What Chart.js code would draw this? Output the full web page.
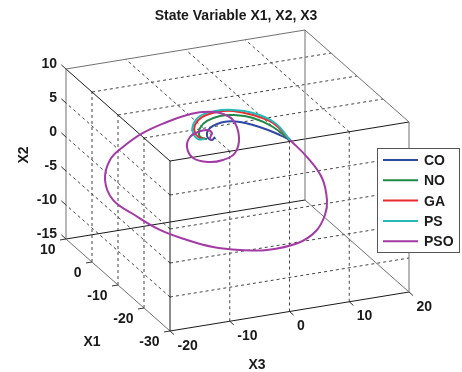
<!DOCTYPE html>
<html>
<head>
<meta charset="utf-8">
<script src="https://cdn.jsdelivr.net/npm/chart.js@4.4.1/dist/chart.umd.min.js"></script>
<style>
html, body { margin: 0; padding: 0; background: #fff; }
#wrap { width: 462px; height: 372px; }
</style>
</head>
<body>
<div id="wrap"><canvas id="chart" width="462" height="372"></canvas></div>
<script>
const seriesNames = ["CO", "NO", "GA", "PS", "PSO"];
const seriesColors = ["#2f4aa3", "#1f8a45", "#ec2a2e", "#27b8b8", "#a43aa6"];

// axis ticks
const x1Ticks = [-30, -20, -10, 0, 10];
const x2Ticks = [-15, -10, -5, 0, 5, 10];
const x3Ticks = [-20, -10, 0, 10, 20];

// trajectories, each point is [X1, X2, X3]
const CO = [
  [0, -1.81, 13.14], [0, -0.84, 11.46], [0, 0.19, 9.46], [0, 1.28, 6.95],
  [0, 2.04, 4.77], [0, 2.42, 2.59], [0, 2.29, 0.92], [0, 1.87, -0.25],
  [0, 1.21, -0.75], [0, 0.45, -0.59], [0, 0.06, 0.08], [0, 0.43, 0.59]
];
const NO = [
  [0, -1.81, 13.14], [0, 0.51, 10.29], [0, 2.31, 6.95], [0, 3.23, 3.60],
  [0, 3.40, 1.42], [0, 2.98, -0.75], [0, 2.11, -1.92], [0, 1.11, -2.09],
  [0, 0.60, -1.59], [0, 0.33, -0.75]
];
const GA = [
  [0, -1.81, 13.14], [0, 1.10, 10.29], [0, 2.75, 6.95], [0, 3.82, 3.60],
  [0, 4.06, 0.92], [0, 3.68, -1.59], [0, 2.68, -2.76], [0, 1.50, -2.76],
  [0, 0.64, -1.92], [0, 0.45, -1.09]
];
const PS = [
  [0, -1.81, 13.14], [0, 1.05, 10.63], [0, 3.05, 6.95], [0, 3.97, 3.60],
  [0, 4.25, 0.59], [0, 3.88, -1.92], [0, 2.72, -3.10], [0, 1.55, -3.10],
  [0, 0.54, -2.26], [0, 0.38, -1.09]
];
const PSO = [
  [0, -1.81, 13.14], [-3, -3.52, 14.68], [-7, -5.36, 15.45], [-11, -7.11, 14.54],
  [-14, -8.07, 12.90], [-17, -9.01, 10.09], [-19.5, -9.34, 5.99], [-21, -9.02, 0.15],
  [-22, -7.97, -4.80], [-21.5, -7.09, -9.10], [-20, -6.03, -12.80], [-17, -5.11, -16.02],
  [-10, -4.92, -17.49], [-5, -4.38, -18.66], [-2, -2.45, -18.69], [0, -0.43, -16.99],
  [1, 0.77, -14.38], [1.5, 2.15, -10.81], [1, 3.39, -7.01], [0, 4.34, -4.10],
  [-2.5, 5.40, -2.51], [-3, 5.04, 0.12], [-3, 3.70, 2.29], [-2, 0.66, 3.73],
  [-1, -2.00, 3.50], [0, -3.14, 1.92], [0.5, -3.28, -0.37], [1, -2.53, -2.66],
  [1, -0.77, -3.67], [0.5, 0.83, -3.38], [0, 1.57, -2.26], [0, 1.65, -0.75],
  [0, 1.09, 0.08], [0, 0.40, -0.25], [0, 0, 0]
];
const seriesData = [CO, NO, GA, PS, PSO];

// camera: screen position of the origin and of one unit along X1, X2, X3
const view = { ox: 211.5, oy: 140.5, e1: [-2.6, -2.3], e2: [0, -6.8], e3: [5.975, -0.975] };

function proj(p) {
  return {
    x: view.ox + view.e1[0] * p[0] + view.e2[0] * p[1] + view.e3[0] * p[2],
    y: view.oy + view.e1[1] * p[0] + view.e2[1] * p[1] + view.e3[1] * p[2]
  };
}

const x1Min = x1Ticks[0], x1Max = x1Ticks[x1Ticks.length - 1];
const x2Min = x2Ticks[0], x2Max = x2Ticks[x2Ticks.length - 1];
const x3Min = x3Ticks[0], x3Max = x3Ticks[x3Ticks.length - 1];

const FONT = "bold 14px 'Liberation Sans', Arial, sans-serif";

const box3d = {
  id: "box3d",
  beforeDatasetsDraw(chart) {
    const c = chart.ctx;
    const sx = chart.scales.x, sy = chart.scales.y;
    function pt(p) { const q = proj(p); return [sx.getPixelForValue(q.x), sy.getPixelForValue(q.y)]; }
    function seg(a, b) {
      const A = pt(a), B = pt(b);
      c.beginPath(); c.moveTo(A[0], A[1]); c.lineTo(B[0], B[1]); c.stroke();
    }
    c.save();
    // dashed grid on the three back planes
    c.strokeStyle = "#444";
    c.lineWidth = 1;
    c.setLineDash([3, 3]);
    x3Ticks.slice(1, -1).forEach(t => {
      seg([x1Min, x2Min, t], [x1Min, x2Max, t]);
      seg([x1Min, x2Max, t], [x1Max, x2Max, t]);
    });
    x2Ticks.slice(1, -1).forEach(v => {
      seg([x1Min, v, x3Min], [x1Min, v, x3Max]);
      seg([x1Min, v, x3Min], [x1Max, v, x3Min]);
    });
    x1Ticks.slice(1, -1).forEach(t => {
      seg([t, x2Min, x3Min], [t, x2Max, x3Min]);
      seg([t, x2Max, x3Min], [t, x2Max, x3Max]);
    });
    c.setLineDash([]);
    // box edges
    const dark = "#1a1a1a", grey = "#707070";
    const edges = [
      [[x1Max, x2Max, x3Min], [x1Max, x2Max, x3Max], grey],
      [[x1Min, x2Max, x3Min], [x1Min, x2Max, x3Max], dark],
      [[x1Max, x2Min, x3Min], [x1Max, x2Min, x3Max], dark],
      [[x1Min, x2Min, x3Min], [x1Min, x2Min, x3Max], dark],
      [[x1Min, x2Max, x3Min], [x1Max, x2Max, x3Min], dark],
      [[x1Min, x2Max, x3Max], [x1Max, x2Max, x3Max], grey],
      [[x1Min, x2Min, x3Min], [x1Max, x2Min, x3Min], grey],
      [[x1Min, x2Min, x3Max], [x1Max, x2Min, x3Max], grey],
      [[x1Max, x2Min, x3Min], [x1Max, x2Max, x3Min], grey],
      [[x1Min, x2Min, x3Min], [x1Min, x2Max, x3Min], dark],
      [[x1Max, x2Min, x3Max], [x1Max, x2Max, x3Max], grey],
      [[x1Min, x2Min, x3Max], [x1Min, x2Max, x3Max], grey]
    ];
    edges.forEach(e => { c.strokeStyle = e[2]; seg(e[0], e[1]); });
    // tick marks
    c.strokeStyle = "#333";
    x2Ticks.forEach(v => seg([x1Max, v, x3Min], [x1Max + 1.8, v, x3Min]));
    x1Ticks.forEach(t => seg([t, x2Min, x3Min], [t, x2Min, x3Min - 1]));
    x3Ticks.forEach(t => seg([x1Min, x2Min, t], [x1Min - 1.6, x2Min, t]));
    c.restore();
  },
  afterDatasetsDraw(chart) {
    const c = chart.ctx;
    const sx = chart.scales.x, sy = chart.scales.y;
    function pt(p) { const q = proj(p); return [sx.getPixelForValue(q.x), sy.getPixelForValue(q.y)]; }
    c.save();
    c.font = FONT;
    c.fillStyle = "#1a1a1a";
    c.textBaseline = "alphabetic";
    // tick labels
    c.textAlign = "right";
    x2Ticks.forEach(v => { const p = pt([x1Max, v, x3Min]); c.fillText(String(v), p[0] - 9, p[1] - 1); });
    x1Ticks.forEach(t => { const p = pt([t, x2Min, x3Min]); c.fillText(String(t), p[0] - 10.5, p[1] + 15); });
    c.textAlign = "left";
    x3Ticks.forEach(t => { const p = pt([x1Min, x2Min, t]); c.fillText(String(t), p[0] + 7.5, p[1] + 18.5); });
    // axis labels
    c.textAlign = "center";
    c.fillText("X1", 92, 346);
    c.fillText("X3", 257, 369);
    c.save();
    c.translate(28, 155);
    c.rotate(-Math.PI / 2);
    c.fillText("X2", 0, 0);
    c.restore();
    // title
    c.fillText("State Variable X1, X2, X3", 236, 19.5);
    // legend
    const lx = 377.5, ly = 148.5, lw = 82, lh = 104;
    c.fillStyle = "#fff";
    c.fillRect(lx, ly, lw, lh);
    c.strokeStyle = "#555";
    c.lineWidth = 1;
    c.strokeRect(lx, ly, lw, lh);
    c.textAlign = "left";
    seriesNames.forEach((name, i) => {
      const y = 160 + i * 20.3;
      c.strokeStyle = seriesColors[i];
      c.lineWidth = 2;
      c.beginPath(); c.moveTo(383, y); c.lineTo(418, y); c.stroke();
      c.fillStyle = "#1a1a1a";
      c.fillText(name, 424, y + 5);
    });
    c.restore();
  }
};

const ctx = document.getElementById("chart");

const chart = new Chart(ctx, {
  type: "scatter",
  data: {
    datasets: seriesData.map((pts, i) => ({
      label: seriesNames[i],
      data: pts.map(proj),
      borderColor: seriesColors[i],
      backgroundColor: seriesColors[i],
      showLine: true,
      fill: false,
      pointRadius: 0,
      borderWidth: 2,
      tension: 0.4,
      clip: false,
      order: seriesNames.length - i
    }))
  },
  options: {
    responsive: false,
    animation: false,
    devicePixelRatio: 1,
    layout: { padding: 0 },
    plugins: {
      legend: { display: false },
      title: { display: false },
      tooltip: { enabled: false }
    },
    scales: {
      x: { type: "linear", min: 0, max: 462, display: false },
      y: { type: "linear", min: 0, max: 372, reverse: true, display: false }
    }
  },
  plugins: [box3d]
});
</script>
</body>
</html>
